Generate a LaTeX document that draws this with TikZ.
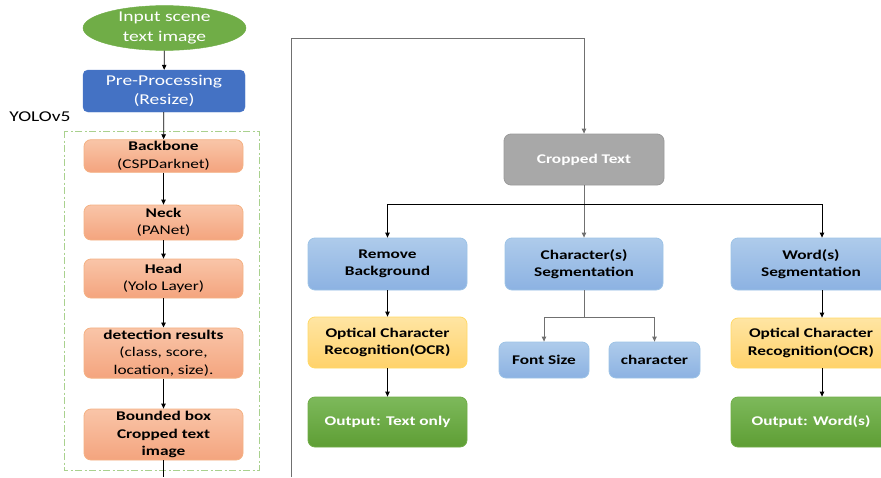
\documentclass[tikz,border=0pt]{standalone}
\usepackage{fontspec}
\setmainfont[FakeStretch=1.3]{Carlito}
\usetikzlibrary{arrows.meta,shapes.geometric}
\definecolor{ortop}{HTML}{F9C5A8}
\definecolor{orbot}{HTML}{F4A47E}
\definecolor{orline}{HTML}{F4B183}
\definecolor{bltop}{HTML}{AECBEB}
\definecolor{blbot}{HTML}{8CB2E2}
\definecolor{blline}{HTML}{9DC3E6}
\definecolor{yetop}{HTML}{FFE5A3}
\definecolor{yebot}{HTML}{FFD26A}
\definecolor{yeline}{HTML}{FFD966}
\definecolor{grtop}{HTML}{7DB95B}
\definecolor{grbot}{HTML}{5E9E34}
\definecolor{grline}{HTML}{70AD47}
\definecolor{gytop}{HTML}{A8A8A8}
\definecolor{gyline}{HTML}{9A9A9A}
\definecolor{preblue}{HTML}{4472C4}
\definecolor{inpgreen}{HTML}{70AD47}
\definecolor{dashgreen}{HTML}{A9D18E}
\definecolor{conngray}{HTML}{707070}
\tikzset{
  x=1pt, y=-1pt,
  basebox/.style={rounded corners=7pt, align=center, inner sep=2pt, line width=0.8pt,
    font=\fontsize{13.3}{17.5}\selectfont\bfseries},
  orangebox/.style={basebox, draw=orline, top color=ortop, bottom color=orbot,
    minimum width=159pt, text=black},
  bluebox/.style={basebox, draw=blline, top color=bltop, bottom color=blbot, text=black},
  yellowbox/.style={basebox, draw=yeline, top color=yetop, bottom color=yebot, text=black},
  greenbox/.style={basebox, draw=grline, top color=grtop, bottom color=grbot, text=white},
  graybox/.style={basebox, draw=gyline, fill=gytop, text=white},
  arr/.style={-{Triangle[length=5pt,width=4.5pt]}, line width=0.8pt, draw=black},
  garr/.style={-{Triangle[length=5pt,width=4.5pt]}, line width=0.9pt, draw=conngray},
}
\begin{document}
\begin{tikzpicture}
\useasboundingbox (0,0) rectangle (881,477);
\clip (0,0) rectangle (881,477);
% left column
\node[ellipse, fill=inpgreen, draw=inpgreen, minimum width=163pt, minimum height=41pt,
  inner sep=0pt, align=center, text=white, font=\fontsize{15}{19.5}\selectfont] (inp) at (164.5,28) {Input scene\\text image};
\node[rounded corners=5pt, fill=preblue, draw=preblue, minimum width=162pt, minimum height=42pt,
  inner sep=0pt, align=center, text=white, font=\fontsize{15}{19.5}\selectfont] (pre) at (164,91) {Pre-Processing\\(Resize)};
\node[font=\fontsize{15}{18}\selectfont, text=black] (yolo) at (40,117) {YOLOv5};
\draw[dashgreen, line width=1pt, dash pattern=on 7pt off 2.5pt on 2pt off 2.5pt] (64,131) rectangle (259,470);
\node[orangebox, minimum height=32pt] (bb) at (163.5,156) {Backbone\\\mdseries(CSPDarknet)};
\node[orangebox, minimum height=35pt] (neck) at (163.5,222.5) {Neck\\\mdseries(PANet)};
\node[orangebox, minimum height=39pt] (head) at (163.5,278.5) {Head\\\mdseries(Yolo Layer)};
\node[orangebox, minimum height=50pt] (det) at (163.5,353) {detection results\\\mdseries(class, score,\\\mdseries location, size).};
\node[orangebox, minimum height=51pt] (bnd) at (163.5,434.5) {Bounded box\\Cropped text\\image};
\coordinate (lbot) at (163.5,477);
\draw[arr] (inp) -- (pre);
\draw[arr] (pre) -- (bb);
\draw[arr] (bb) -- (neck);
\draw[arr] (neck) -- (head);
\draw[arr] (head) -- (det);
\draw[arr] (det) -- (bnd);
\draw[line width=0.8pt] (bnd) -- (lbot);
% right part
\node[graybox, minimum width=160pt, minimum height=51pt] (crop) at (584,159.5) {Cropped Text};
\node[bluebox, minimum width=159pt, minimum height=52pt] (rem) at (387.5,264) {Remove\\Background};
\node[bluebox, minimum width=158pt, minimum height=52pt] (cseg) at (584,264) {Character(s)\\Segmentation};
\node[bluebox, minimum width=160pt, minimum height=52pt] (wseg) at (811,264) {Word(s)\\Segmentation};
\node[yellowbox, minimum width=159pt, minimum height=51pt] (ocr1) at (387.5,342.5) {Optical Character\\Recognition(OCR)};
\node[greenbox, minimum width=159pt, minimum height=50pt] (out1) at (387.5,422) {Output: Text only};
\node[bluebox, minimum width=90pt, minimum height=36pt] (fsize) at (544,360) {Font Size};
\node[bluebox, minimum width=91pt, minimum height=36pt] (chr) at (654.5,360) {character};
\node[yellowbox, minimum width=160pt, minimum height=50pt] (ocr2) at (811,343) {Optical Character\\Recognition(OCR)};
\node[greenbox, minimum width=160pt, minimum height=50pt] (out2) at (811,422) {Output: Word(s)};
\coordinate (vbot) at (291,477);
\coordinate (vtop) at (291,38);
\draw[garr] (vbot) -- (vtop) -| (crop.north);
\draw[garr] (crop.south) -- (cseg.north);
\draw[arr] (crop.south) ++(0,19) -| (rem.north);
\draw[arr] (crop.south) ++(0,19) -| ([xshift=11pt]wseg.north);
\draw[garr] (cseg.south) -- ++(0,27) -| (fsize.north);
\draw[garr] (cseg.south) ++(0,27) -| (chr.north);
\draw[arr] (rem) -- (ocr1);
\draw[arr] (ocr1) -- (out1);
\draw[arr] ([xshift=11pt]wseg.south) -- ([xshift=11pt]ocr2.north);
\draw[arr] ([xshift=11pt]ocr2.south) -- ([xshift=11pt]out2.north);
\end{tikzpicture}
\end{document}
